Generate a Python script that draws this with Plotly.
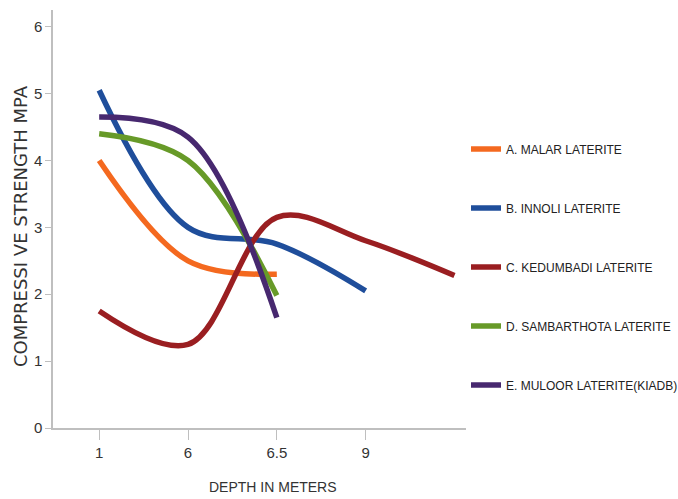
import plotly.graph_objects as go

# Depth categories; the fifth reading carries no printed label or tick
depth_labels = ["1", "6", "6.5", "9"]
depth_index = [0, 1, 2, 3, 4]

malar = [4.0, 2.5, 2.3]
innoli = [5.05, 3.0, 2.75, 2.05]
kedumbadi = [1.75, 1.25, 3.15, 2.8, 2.28]
sambarthota = [4.4, 4.0, 1.98]
muloor = [4.65, 4.35, 1.65]

series_names = [
    "A. MALAR LATERITE",
    "B. INNOLI LATERITE",
    "C. KEDUMBADI LATERITE",
    "D. SAMBARTHOTA LATERITE",
    "E. MULOOR LATERITE(KIADB)",
]
series_values = [malar, innoli, kedumbadi, sambarthota, muloor]
series_colors = ["#F4691F", "#1F4E9B", "#9A1E21", "#679A28", "#47286F"]

font_main = "Liberation Sans Narrow, Arial Narrow, Liberation Sans, sans-serif"

fig = go.Figure()
for i, (name, vals, col) in enumerate(zip(series_names, series_values, series_colors)):
    fig.add_trace(go.Scatter(
        x=depth_index[:len(vals)],
        y=vals,
        mode="lines",
        name=name,
        legendgroup=f"g{i}",
        line=dict(color=col, width=5.5, shape="spline", smoothing=1.0),
        hoverinfo="x+y+name",
    ))

fig.update_layout(
    width=678,
    height=499,
    margin=dict(l=53, r=212, t=10, b=71, autoexpand=False),
    paper_bgcolor="white",
    plot_bgcolor="white",
    showlegend=True,
    legend=dict(
        x=1.0, xanchor="left", xref="paper",
        y=0.702, yanchor="top",
        font=dict(family=font_main, size=12, color="#222222"),
        tracegroupgap=40,
        itemwidth=30,
        bgcolor="rgba(0,0,0,0)",
    ),
    xaxis=dict(
        range=[-0.52, 4.13],
        tickvals=depth_index[:len(depth_labels)],
        ticktext=depth_labels,
        showgrid=False,
        zeroline=False,
        showline=True,
        linecolor="#BFBFBF",
        linewidth=1.5,
        ticks="outside",
        ticklen=10,
        tickcolor="#BFBFBF",
        tickfont=dict(family=font_main, size=15, color="#333333"),
    ),
    yaxis=dict(
        range=[0, 6.25],
        tickvals=[0, 1, 2, 3, 4, 5, 6],
        showgrid=False,
        zeroline=False,
        showline=True,
        linecolor="#BFBFBF",
        linewidth=1.5,
        ticks="outside",
        ticklen=6,
        tickcolor="#BFBFBF",
        tickfont=dict(family=font_main, size=15, color="#333333"),
    ),
    annotations=[
        dict(
            text="DEPTH IN METERS",
            xref="paper", yref="paper",
            x=0.533, y=-0.118,
            xanchor="center", yanchor="top",
            showarrow=False,
            font=dict(family=font_main, size=14, color="#333333"),
        ),
        dict(
            text="COMPRESSI VE STRENGTH MPA",
            xref="paper", yref="paper",
            x=-0.08, y=0.483,
            xanchor="center", yanchor="middle",
            textangle=-90,
            showarrow=False,
            font=dict(family="DejaVu Sans, Verdana, sans-serif", size=18, color="#333333"),
        ),
    ],
)

fig.write_html("out.html")
